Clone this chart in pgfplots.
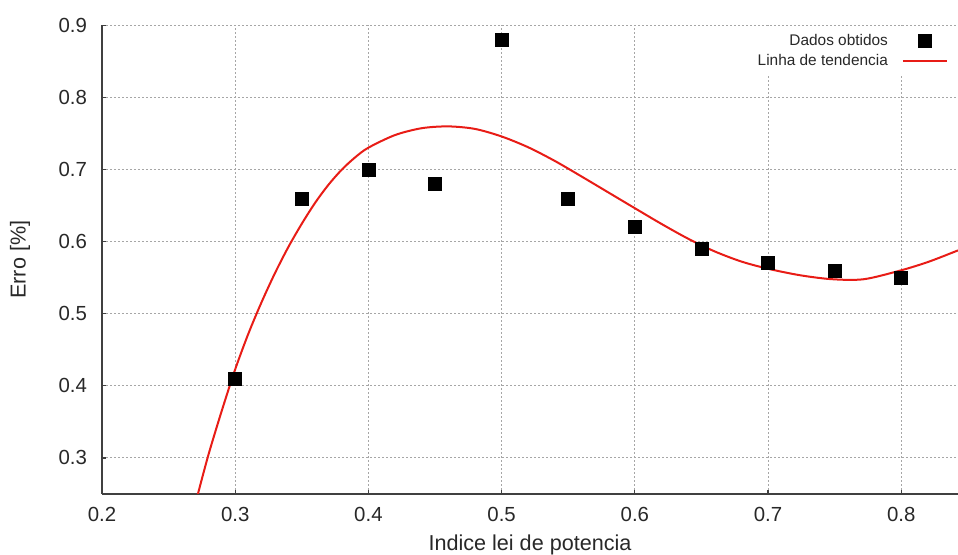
\documentclass[border=0pt]{standalone}
\usepackage{fontspec}
\setmainfont{Liberation Sans}
\usepackage{pgfplots}
\pgfplotsset{compat=1.18}
\usetikzlibrary{calc}
\definecolor{fitred}{RGB}{232,28,22}
\definecolor{axgray}{RGB}{64,64,64}
\definecolor{txtgray}{RGB}{40,40,40}
\pgfplotsset{
  sqlegend/.style={legend image code/.code={\draw[mark repeat=2,mark phase=2,##1] plot coordinates {(0pt,0pt) (11pt,0pt) (22pt,0pt)};}},
  lnlegend/.style={legend image code/.code={\draw[##1] (0pt,0pt) -- (22pt,0pt);}},
}
\begin{document}
\begin{tikzpicture}
\begin{axis}[
  scale only axis,
  width=428pt, height=234.25pt,
  xmin=0.2, xmax=0.8426, ymin=0.25, ymax=0.9,
  axis x line*=bottom, axis y line*=left,
  axis line style={-, axgray, line width=0.75pt},
  xtick={0.2,0.3,0.4,0.5,0.6,0.7,0.8},
  ytick={0.3,0.4,0.5,0.6,0.7,0.8,0.9},
  tick align=inside,
  major tick length=2pt,
  tick style={axgray, line width=0.6pt},
  grid=major,
  major grid style={gray!70, line width=0.5pt, dash pattern=on 1pt off 1pt},
  /pgf/number format/assume math mode=true,
  xticklabel style={/pgf/number format/.cd, fixed, fixed zerofill, precision=1, /tikz/.cd, font=\fontsize{10.2}{12}\selectfont, text=txtgray, yshift=-3pt},
  yticklabel style={/pgf/number format/.cd, fixed, fixed zerofill, precision=1, /tikz/.cd, font=\fontsize{10.2}{12}\selectfont, text=txtgray, xshift=-4pt},
  xlabel={Indice lei de potencia},
  ylabel={Erro [\%]},
  xlabel style={font=\fontsize{10.8}{12}\selectfont, text=txtgray, at={(rel axis cs:0.5,0)}, anchor=base, yshift=-28.5pt},
  ylabel style={font=\fontsize{10.8}{12}\selectfont, text=txtgray, at={(rel axis cs:0,0.5)}, anchor=center, yshift=41pt},
  legend style={at={(rel axis cs:0.991,0.995)}, anchor=north east, draw=none, fill=white, inner sep=1pt,
    font=\fontsize{7.7}{9}\selectfont, text=txtgray, row sep=-1pt,
    /tikz/every odd column/.append style={column sep=5pt}},
  legend cell align=right,
  legend plot pos=right,
]
\addplot[only marks, mark=square*, mark size=3.25pt, black, sqlegend]
  coordinates {
  (0.30,0.41) (0.35,0.66) (0.40,0.70) (0.45,0.68) (0.50,0.88) (0.55,0.66)
  (0.60,0.62) (0.65,0.59) (0.70,0.57) (0.75,0.56) (0.80,0.55)
  };
\addlegendentry{Dados obtidos}
\addplot[fitred, line width=1pt, smooth, lnlegend]
  coordinates {
  (0.272,0.25) (0.28,0.305) (0.29,0.366) (0.30,0.423) (0.31,0.473)
  (0.32,0.517) (0.33,0.557) (0.34,0.593) (0.35,0.625) (0.36,0.654)
  (0.37,0.679) (0.38,0.700) (0.39,0.717) (0.40,0.7305) (0.42,0.748)
  (0.44,0.7575) (0.46,0.760) (0.48,0.7565) (0.50,0.746) (0.52,0.731)
  (0.54,0.712) (0.56,0.6905) (0.58,0.6685) (0.60,0.6465) (0.62,0.6247)
  (0.64,0.6042) (0.66,0.5865) (0.68,0.5725) (0.70,0.5625) (0.724,0.5535)
  (0.748,0.548) (0.772,0.548) (0.80,0.5604) (0.821,0.5725) (0.8426,0.588)
  };
\addlegendentry{Linha de tendencia}
\end{axis}
\pgfresetboundingbox
\useasboundingbox ($(current axis.south west)+(-51pt,-30.5pt)$) rectangle ($(current axis.north east)+(0pt,12.75pt)$);
\end{tikzpicture}
\end{document}
